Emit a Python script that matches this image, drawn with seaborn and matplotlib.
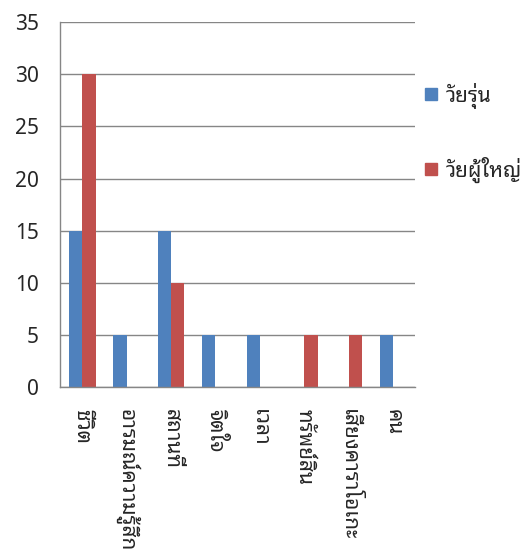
import matplotlib
matplotlib.use("Agg")
import matplotlib.pyplot as plt
import seaborn as sns
import pandas as pd

categories = ["ชีวิต", "อารมณ์ความรู้สึก", "สถานที่", "จิตใจ", "เวลา", "ทรัพย์สิน", "เสียงคาราโอเกะ", "คน"]
teen = [15, 5, 15, 5, 5, 0, 0, 5]
adult = [30, 0, 10, 0, 0, 5, 5, 0]
series = ["วัยรุ่น", "วัยผู้ใหญ่"]
colors = ["#4F81BD", "#C0504D"]

df = pd.DataFrame({
    "cat": categories * 2,
    "value": teen + adult,
    "group": [series[0]] * len(categories) + [series[1]] * len(categories),
})

sns.set_style("white")
plt.rcParams["font.family"] = ["Noto Sans Thai Looped", "DejaVu Sans"]

fig = plt.figure(figsize=(5.31, 5.5), dpi=100)
ax = fig.add_axes([0.113, 0.296, 0.669, 0.664])

sns.barplot(data=df, x="cat", y="value", hue="group", hue_order=series,
            palette=colors, width=0.6, gap=0, saturation=1, linewidth=0,
            ax=ax, legend=False)

ax.set_ylim(0, 35)
ax.set_yticks(range(0, 36, 5))
ax.set_xlim(-0.5, len(categories) - 0.5)
ax.set_xlabel("")
ax.set_ylabel("")
ax.yaxis.grid(True, color="#868686", linewidth=1)
ax.set_axisbelow(True)
for side in ["top", "right"]:
    ax.spines[side].set_visible(False)
for side in ["left", "bottom"]:
    ax.spines[side].set_color("#868686")
    ax.spines[side].set_linewidth(1)

ax.tick_params(axis="y", length=0, pad=15, labelsize=15)
ax.tick_params(axis="x", length=0, pad=16, labelsize=15)
plt.setp(ax.get_xticklabels(), rotation=-90, va="top", ha="center")

handles = [plt.Rectangle((0, 0), 1, 1, color=c) for c in colors]
fig.legend(handles, series, loc="upper left", bbox_to_anchor=(0.785, 0.865),
           frameon=False, prop={"size": 15, "weight": "bold"},
           handlelength=0.55, handleheight=0.55,
           handletextpad=0.45, labelspacing=2.3, borderaxespad=0)

fig.savefig("out.png")
